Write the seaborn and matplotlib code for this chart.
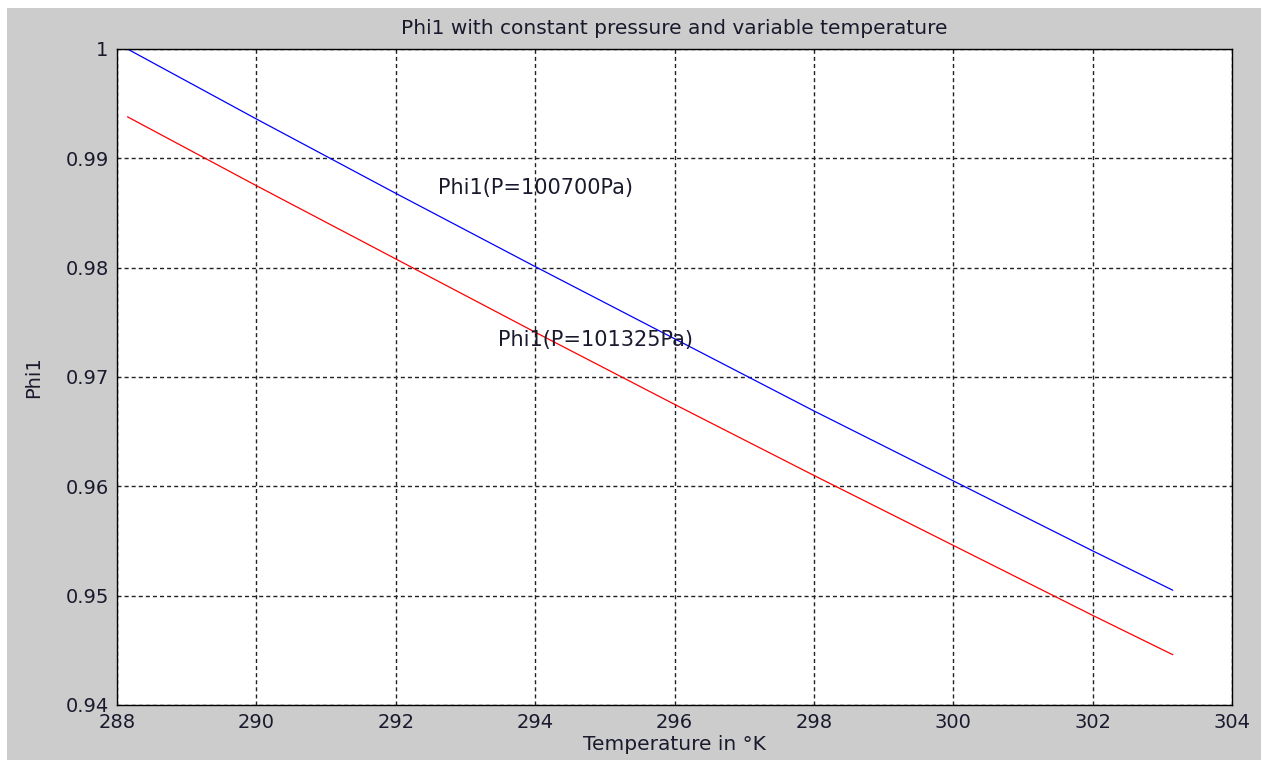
import matplotlib
matplotlib.use("Agg")
import matplotlib.pyplot as plt
from matplotlib.patches import Rectangle
import seaborn as sns
import pandas as pd

# Data
temperature = [288.15, 290, 292, 294, 296, 298, 300, 302, 303.15]
phi1_blue = [1.0, 0.9936, 0.9868, 0.9801, 0.9735, 0.9669, 0.9605, 0.9541, 0.9505]
phi1_red = [0.9938, 0.9875, 0.9808, 0.9741, 0.9675, 0.9610, 0.9546, 0.9482, 0.9446]
series_names = ["blue", "red"]
label_blue = "Phi1(P=100700Pa)"
label_red = "Phi1(P=101325Pa)"
x_ticks = [288, 290, 292, 294, 296, 298, 300, 302, 304]
y_ticks = [0.94, 0.95, 0.96, 0.97, 0.98, 0.99, 1.0]
y_tick_labels = ["0.94", "0.95", "0.96", "0.97", "0.98", "0.99", "1"]

df = pd.DataFrame({
    "T": temperature * 2,
    "phi": phi1_blue + phi1_red,
    "series": [series_names[0]] * len(temperature) + [series_names[1]] * len(temperature),
})

sns.set_style("white")
plt.rcParams["font.family"] = ["DejaVu Sans"]

W, H = 1268, 760
fig = plt.figure(figsize=(W / 100, H / 100), dpi=100, facecolor="white")
fig.patches.append(Rectangle((7 / W, 0), (1261 - 7) / W, (760 - 8) / H,
                             transform=fig.transFigure, facecolor="#cccccc",
                             edgecolor="none", zorder=-10))

left, right, top, bottom = 117, 1232, 49, 705
ax = fig.add_axes([left / W, (H - bottom) / H, (right - left) / W, (bottom - top) / H])
ax.set_facecolor("white")

sns.lineplot(data=df, x="T", y="phi", hue="series",
             palette={"blue": "#0000ff", "red": "#ff0000"},
             linewidth=0.9, legend=False, ax=ax)

txt_color = "#1a1a2e"
ax.set_xlim(288, 304)
ax.set_ylim(0.94, 1.0)
ax.set_xticks(x_ticks)
ax.set_xticklabels([str(t) for t in x_ticks])
ax.set_yticks(y_ticks)
ax.set_yticklabels(y_tick_labels)
ax.tick_params(direction="in", length=8, width=1, color="#222222",
               labelsize=14, labelcolor=txt_color, pad=6)
ax.grid(True, color="#222222", linestyle=(0, (2.9, 2.2)), linewidth=1.0)
for s in ax.spines.values():
    s.set_color("black")
    s.set_linewidth(1.0)
    s.set_visible(True)

ax.text(292.61, 0.9873, label_blue, fontsize=15, color=txt_color, va="center", ha="left")
ax.text(293.47, 0.9734, label_red, fontsize=15, color=txt_color, va="center", ha="left")

ax.set_title("Phi1 with constant pressure and variable temperature",
             fontsize=14.5, color=txt_color, pad=11)
ax.set_xlabel("Temperature in °K", fontsize=14.5, color=txt_color, labelpad=2)
ax.set_ylabel("Phi1", fontsize=14, color=txt_color, labelpad=16)

fig.savefig("out.png", dpi=100, facecolor="white")
